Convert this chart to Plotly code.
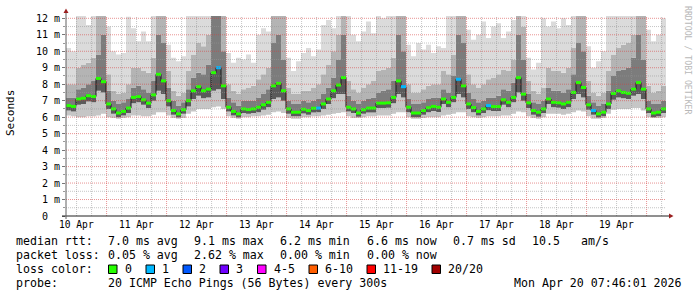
import plotly.graph_objects as go
from datetime import datetime, timedelta

# ---------------- data ----------------
END = datetime(2026, 4, 20, 7, 46, 1)
START = END - timedelta(days=10)
STEP_HOURS = 2

# median round trip time per 2h step (ms)
median_ms = [
    6.70, 6.65, 7.10, 7.15, 7.30, 7.25, 8.35, 8.15, 6.80, 6.50, 6.25, 6.35,
    6.55, 7.20, 7.25, 7.05, 6.85, 7.35, 8.60, 8.20, 7.00, 6.40, 6.20, 6.45,
    7.00, 7.60, 7.85, 7.60, 7.70, 8.70, 9.00, 7.90, 6.60, 6.35, 6.20, 6.50,
    6.46, 6.50, 6.60, 6.75, 6.90, 7.90, 8.05, 7.60, 6.50, 6.30, 6.30, 6.48,
    6.40, 6.54, 6.55, 6.80, 7.10, 7.60, 7.95, 8.40, 6.60, 6.50, 6.25, 6.45,
    6.55, 6.55, 6.85, 6.85, 6.87, 7.20, 8.20, 7.85, 6.60, 6.25, 6.25, 6.40,
    6.57, 6.65, 6.60, 7.10, 6.90, 7.20, 8.30, 7.90, 6.80, 6.58, 6.35, 6.50,
    6.70, 6.64, 6.64, 7.05, 6.90, 7.20, 8.40, 7.40, 6.87, 6.40, 6.30, 6.50,
    7.10, 6.90, 6.87, 6.80, 6.90, 7.50, 8.10, 7.80, 6.75, 6.40, 6.20, 6.30,
    6.80, 7.44, 7.60, 7.50, 7.45, 7.70, 8.10, 7.70, 6.50, 6.25, 6.30, 6.50,
]

# lowest ping per step (ms)
ping_min_ms = [
    6.10, 6.05, 6.00, 6.00, 6.05, 6.05, 6.10, 6.20, 6.00, 5.95, 5.90, 5.95,
    6.00, 6.10, 6.10, 6.05, 6.05, 6.15, 6.30, 6.30, 6.10, 5.95, 5.90, 5.95,
    6.20, 6.35, 6.50, 6.50, 6.50, 6.60, 6.65, 6.50, 6.05, 5.95, 5.90, 6.00,
    6.00, 6.05, 6.05, 6.10, 6.15, 6.30, 6.35, 6.25, 5.95, 5.90, 5.90, 6.00,
    6.00, 6.05, 6.05, 6.10, 6.15, 6.20, 6.25, 6.30, 6.05, 5.95, 5.95, 6.00,
    6.05, 6.05, 6.10, 6.10, 6.10, 6.20, 6.30, 6.30, 6.00, 5.90, 5.90, 5.95,
    6.00, 6.00, 6.00, 6.10, 6.15, 6.20, 6.30, 6.30, 6.05, 6.00, 5.95, 6.00,
    6.05, 6.05, 6.05, 6.10, 6.10, 6.20, 6.35, 6.30, 6.05, 5.95, 5.90, 6.00,
    6.20, 6.20, 6.20, 6.15, 6.20, 6.30, 6.40, 6.35, 6.05, 5.90, 5.90, 5.95,
    6.20, 6.45, 6.50, 6.50, 6.50, 6.55, 6.55, 6.40, 6.00, 5.95, 5.95, 6.00,
]

# lower edge of the dark band below the median (ms)
ping_lo_ms = [
    6.40, 6.35, 6.75, 6.80, 6.95, 6.90, 7.60, 7.50, 6.50, 6.20, 6.00, 6.10,
    6.25, 6.85, 6.90, 6.75, 6.55, 7.00, 7.60, 7.40, 6.65, 6.15, 5.98, 6.20,
    6.65, 7.10, 7.30, 7.15, 7.20, 7.60, 7.70, 7.10, 6.35, 6.10, 5.98, 6.25,
    6.20, 6.25, 6.30, 6.45, 6.60, 7.10, 7.20, 7.00, 6.20, 6.05, 6.05, 6.22,
    6.15, 6.28, 6.30, 6.50, 6.80, 7.15, 7.40, 7.40, 6.35, 6.25, 6.02, 6.20,
    6.28, 6.28, 6.55, 6.55, 6.57, 6.85, 7.40, 7.20, 6.30, 6.00, 6.00, 6.15,
    6.30, 6.38, 6.32, 6.80, 6.60, 6.90, 7.40, 7.20, 6.50, 6.30, 6.10, 6.25,
    6.42, 6.38, 6.38, 6.75, 6.60, 6.90, 7.50, 7.00, 6.55, 6.15, 6.02, 6.25,
    6.80, 6.60, 6.57, 6.50, 6.60, 7.10, 7.40, 7.20, 6.45, 6.15, 5.98, 6.05,
    6.50, 7.05, 7.20, 7.15, 7.10, 7.30, 7.40, 7.10, 6.25, 6.00, 6.05, 6.25,
]

# upper edge of the dark smoke above the median (ms)
ping_dark_top_ms = [
    7.20, 7.20, 7.70, 7.80, 8.00, 8.20, 9.80, 11.0, 7.60, 7.00, 6.80, 6.90,
    7.10, 7.80, 7.90, 7.70, 7.50, 8.20, 11.0, 10.5, 7.80, 7.00, 6.70, 6.90,
    7.70, 8.40, 8.70, 8.60, 9.20, 12.3, 12.3, 10.0, 7.20, 6.90, 6.70, 7.00,
    7.00, 7.00, 7.20, 7.40, 7.70, 10.5, 11.0, 9.50, 7.00, 6.80, 6.80, 7.00,
    6.90, 7.00, 7.10, 7.40, 7.80, 8.40, 9.50, 11.0, 7.30, 7.00, 6.80, 7.00,
    7.10, 7.20, 7.50, 7.60, 7.70, 8.20, 11.0, 10.0, 7.10, 6.80, 6.80, 6.90,
    7.10, 7.20, 7.20, 7.70, 7.50, 8.50, 11.0, 10.5, 7.50, 7.10, 6.90, 7.00,
    7.20, 7.20, 7.30, 7.70, 7.60, 8.10, 11.0, 9.50, 7.40, 6.90, 6.80, 7.00,
    7.80, 7.60, 7.60, 7.50, 7.70, 8.60, 10.5, 10.0, 7.30, 6.90, 6.70, 6.80,
    7.60, 8.50, 8.80, 8.90, 9.00, 9.60, 11.0, 9.50, 7.00, 6.80, 6.80, 7.00,
]

# upper edge of the medium grey smoke (ms)
ping_mid_top_ms = [
    8.00, 8.00, 9.00, 9.20, 9.30, 9.60, 12.3, 12.3, 8.60, 7.60, 7.40, 7.50,
    8.00, 9.00, 9.00, 8.80, 8.70, 9.60, 12.3, 12.3, 8.80, 7.60, 7.30, 7.50,
    8.80, 9.80, 10.5, 10.3, 11.0, 12.3, 12.3, 12.3, 8.00, 7.60, 7.40, 7.70,
    7.80, 7.90, 8.30, 8.60, 9.00, 12.3, 12.3, 12.3, 7.80, 7.40, 7.40, 7.60,
    7.60, 7.80, 8.00, 8.60, 9.20, 10.0, 11.0, 12.3, 8.20, 7.70, 7.50, 7.80,
    8.00, 8.20, 8.80, 8.90, 9.00, 9.60, 12.3, 12.3, 8.00, 7.50, 7.50, 7.70,
    7.90, 8.00, 8.00, 8.80, 8.60, 9.80, 12.3, 12.3, 8.60, 8.00, 7.80, 8.00,
    8.30, 8.40, 8.60, 8.90, 8.80, 9.50, 12.3, 11.5, 8.20, 7.60, 7.40, 7.80,
    9.00, 8.80, 8.80, 8.70, 9.00, 10.2, 12.3, 12.3, 8.20, 7.50, 7.30, 7.50,
    8.80, 9.80, 10.2, 10.4, 10.5, 11.0, 12.3, 12.3, 7.90, 7.50, 7.60, 7.90,
]

# highest ping per step (ms)
ping_max_ms = [
    10.2, 10.0, 12.3, 12.3, 11.6, 12.3, 12.3, 12.3, 11.5, 10.0, 9.80, 9.90,
    12.1, 11.4, 10.6, 11.2, 10.6, 12.3, 12.3, 12.3, 10.4, 9.60, 9.40, 9.70,
    12.3, 12.3, 12.3, 12.3, 12.3, 12.3, 12.3, 12.3, 9.90, 9.30, 9.60, 9.50,
    9.80, 9.30, 11.0, 11.4, 11.2, 12.3, 12.3, 12.3, 9.60, 8.80, 9.40, 9.90,
    10.2, 9.70, 10.1, 11.6, 11.9, 11.4, 12.3, 12.3, 12.3, 11.0, 10.6, 11.2,
    11.8, 11.1, 12.3, 12.0, 12.3, 12.3, 12.3, 12.3, 10.4, 9.70, 10.5, 10.1,
    10.4, 9.90, 10.3, 10.2, 12.3, 12.3, 12.3, 12.3, 11.3, 10.7, 11.0, 11.8,
    10.8, 11.5, 11.7, 10.8, 11.2, 11.9, 12.3, 12.3, 9.60, 8.90, 9.30, 12.0,
    11.5, 11.8, 11.4, 12.0, 11.6, 12.3, 12.3, 12.3, 10.3, 9.00, 9.40, 10.0,
    12.3, 12.3, 12.3, 12.3, 12.3, 12.3, 12.3, 12.3, 11.3, 10.6, 11.0, 12.0,
]

# lost pings (of 20) per step
loss_count = [
    0, 0, 0, 0, 0, 0, 0, 0, 0, 0, 0, 0,
    0, 0, 0, 0, 0, 0, 0, 0, 0, 0, 0, 0,
    0, 0, 0, 0, 0, 0, 1, 0, 0, 0, 0, 0,
    0, 0, 0, 0, 0, 0, 0, 0, 0, 0, 0, 0,
    0, 0, 1, 0, 0, 0, 0, 0, 0, 0, 0, 0,
    0, 0, 0, 0, 0, 0, 0, 1, 0, 0, 0, 0,
    0, 0, 0, 0, 0, 0, 1, 0, 0, 0, 0, 0,
    1, 0, 0, 0, 0, 0, 0, 0, 0, 0, 0, 0,
    0, 0, 0, 0, 0, 0, 0, 0, 0, 1, 0, 0,
    0, 0, 0, 0, 0, 0, 0, 0, 0, 0, 0, 0,
]

day_labels = ["10 Apr", "11 Apr", "12 Apr", "13 Apr", "14 Apr",
              "15 Apr", "16 Apr", "17 Apr", "18 Apr", "19 Apr"]
y_tick_values = [0, 1, 2, 3, 4, 5, 6, 7, 8, 9, 10, 11, 12]
y_tick_labels = ["0\u00a0\u00a0", "1\u00a0m", "2\u00a0m", "3\u00a0m", "4\u00a0m",
                 "5\u00a0m", "6\u00a0m", "7\u00a0m", "8\u00a0m", "9\u00a0m",
                 "10\u00a0m", "11\u00a0m", "12\u00a0m"]

loss_legend_labels = ["0", "1", "2", "3", "4-5", "6-10", "11-19", "20/20"]
loss_legend_colors = ["#26ff00", "#00b8ff", "#0059ff", "#7000ff",
                      "#ff00ff", "#ff5e00", "#ff0000", "#a10000"]

rtt_stats = ["7.0 ms avg", "9.1 ms max", "6.2 ms min", "6.6 ms now", "0.7 ms sd", "10.5", "am/s"]
loss_stats = ["0.05 % avg", "2.62 % max", "0.00 % min", "0.00 % now"]
probe_text = "20 ICMP Echo Pings (56 Bytes) every 300s"
stamp_text = "Mon Apr 20 07:46:01 2026"

# ---------------- geometry helpers (layout only) ----------------
W_IMG, H_IMG = 697, 297
L, T, PW, PH = 66, 16, 600, 200
Y_MAX = 12.14
MONO = "DejaVu Sans Mono"


def xp(px):
    return (px - L) / PW


def yp(py):
    return (T + PH - py) / PH


n = len(median_ms)
times = [START + timedelta(hours=STEP_HOURS * i) for i in range(n + 1)]


def stepped(vals):
    return list(vals) + [vals[-1]]


fig = go.Figure()

# smoke layers
layers = [
    (ping_min_ms, None),
    (ping_lo_ms, "#c6c6c6"),
    (median_ms, "#5a5a5a"),
    (ping_dark_top_ms, "#7c7c7c"),
    (ping_mid_top_ms, "#b4b4b4"),
    (ping_max_ms, "#dbdbdb"),
]
for vals, col in layers:
    fig.add_trace(go.Scatter(
        x=times, y=stepped(vals), mode="lines",
        line=dict(width=0, shape="hv"),
        fill=None if col is None else "tonexty",
        fillcolor=col, hoverinfo="skip", showlegend=False))

# thin dark median line
fig.add_trace(go.Scatter(
    x=times, y=stepped(median_ms), mode="lines",
    line=dict(width=1, shape="hv", color="#1a1a1a"),
    hoverinfo="skip", showlegend=False))

# colored median segments by loss class
for cls, col in enumerate(loss_legend_colors[:2]):
    xs, ys = [], []
    for i in range(n):
        if loss_count[i] == cls:
            xs += [times[i], times[i + 1], None]
            ys += [median_ms[i], median_ms[i], None]
    if xs:
        fig.add_trace(go.Scatter(
            x=xs, y=ys, mode="lines", connectgaps=False,
            line=dict(width=3, color=col),
            hoverinfo="skip", showlegend=False))

shapes = []
# grid on top (dotted)
minor_col = "rgba(150,150,150,0.55)"
major_col = "rgba(215,60,60,0.55)"
t = datetime(START.year, START.month, START.day) + timedelta(hours=6)
while t < END:
    if t > START:
        shapes.append(dict(type="line", xref="x", yref="paper", x0=t, x1=t, y0=0, y1=1,
                           line=dict(width=1, dash="1px,1px",
                                     color=major_col if t.hour == 0 else minor_col),
                           layer="above"))
    t += timedelta(hours=6)
for k in range(1, 25):
    v = k * 0.5
    shapes.append(dict(type="line", xref="paper", yref="y", x0=0, x1=1, y0=v, y1=v,
                       line=dict(width=1, dash="1px,1px",
                                 color=major_col if k % 2 == 0 else minor_col),
                       layer="above"))

# axes lines and arrows
shapes.append(dict(type="line", xref="paper", yref="paper", x0=xp(62), x1=xp(670),
                   y0=yp(216), y1=yp(216), line=dict(width=1, color="#202020"), layer="above"))
shapes.append(dict(type="line", xref="paper", yref="paper", x0=xp(66), x1=xp(66),
                   y0=yp(219), y1=yp(11), line=dict(width=1, color="#606060"), layer="above"))
arrow_col = "#9a1f1f"
shapes.append(dict(type="path", xref="paper", yref="paper",
                   path=f"M {xp(63.5)} {yp(13)} L {xp(66)} {yp(8.5)} L {xp(68.5)} {yp(13)} Z",
                   fillcolor=arrow_col, line=dict(width=0), layer="above"))
shapes.append(dict(type="path", xref="paper", yref="paper",
                   path=f"M {xp(669)} {yp(213.5)} L {xp(673.5)} {yp(216)} L {xp(669)} {yp(218.5)} Z",
                   fillcolor=arrow_col, line=dict(width=0), layer="above"))

annotations = []


def text(px, py, s, size=11.6, anchor="left", color="#000000", angle=0, ref_x=None):
    annotations.append(dict(
        x=xp(px) if ref_x is None else ref_x, y=yp(py),
        xref="paper" if ref_x is None else "x", yref="paper",
        text=s, showarrow=False, xanchor=anchor, yanchor="middle",
        textangle=angle, borderpad=0,
        font=dict(family=MONO, size=size, color=color)))


# x day labels at noon
for d, lab in enumerate(day_labels):
    noon = datetime(2026, 4, 10, 12, 0, 0) + timedelta(days=d)
    text(0, 224.5, lab, size=9.6, anchor="center", ref_x=noon)

# axis title and watermark
text(10.5, 113.5, "Seconds", size=11, anchor="center", angle=-90)
text(688, 60, "RRDTOOL / TOBI OETIKER", size=8.2, anchor="center", color="#b8b8b8", angle=90)

# legend rows
row1, row2, row3, row4 = 241, 255, 269, 283
text(15, row1, "median rtt:")
for s, px in zip(rtt_stats, [107, 193, 279, 366, 452, 531, 580]):
    text(px, row1, s)
text(15, row2, "packet loss:")
for s, px in zip(loss_stats, [107, 193, 279, 366]):
    text(px, row2, s)
text(15, row3, "loss color:")
box_x = [108.5, 146, 183, 220, 257.5, 309, 367, 432]
for bx, lab, col in zip(box_x, loss_legend_labels, loss_legend_colors):
    shapes.append(dict(type="rect", xref="paper", yref="paper",
                       x0=xp(bx), x1=xp(bx + 8.5), y0=yp(273.5), y1=yp(265),
                       fillcolor=col, line=dict(width=1, color="#000000"), layer="above"))
    text(bx + 15, row3, lab)
text(15, row4, "probe:")
text(107, row4, probe_text)
text(683, row4, stamp_text, anchor="right")

fig.update_layout(
    width=W_IMG, height=H_IMG,
    margin=dict(l=L, r=W_IMG - L - PW, t=T, b=H_IMG - T - PH, pad=0),
    paper_bgcolor="#ffffff", plot_bgcolor="#ffffff",
    showlegend=False,
    shapes=shapes, annotations=annotations,
    xaxis=dict(range=[START, END], showgrid=False, zeroline=False, showline=False,
               showticklabels=False, ticks="", fixedrange=True),
    yaxis=dict(range=[0, Y_MAX], showgrid=False, zeroline=False, showline=False,
               tickmode="array", tickvals=y_tick_values, ticktext=y_tick_labels,
               ticks="outside", ticklen=3, tickcolor="#777777", tickwidth=1,
               tickfont=dict(family=MONO, size=10, color="#000000"),
               minor=dict(dtick=0.5, ticks="outside", ticklen=2, tickcolor="#999999", showgrid=False),
               fixedrange=True),
)

fig.write_html("out.html")
